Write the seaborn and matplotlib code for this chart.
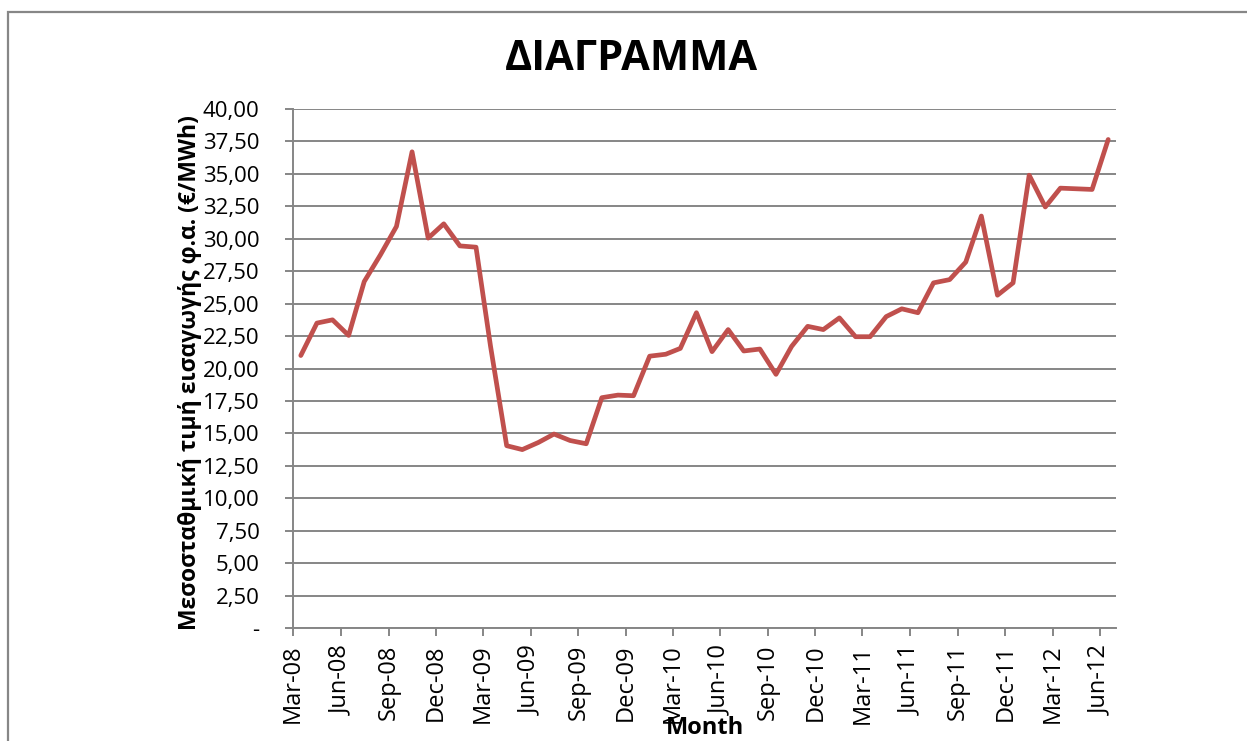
import matplotlib
matplotlib.use("Agg")

import matplotlib.dates as mdates
import matplotlib.pyplot as plt
import numpy as np
import pandas as pd
import seaborn as sns
from matplotlib.patches import Rectangle
from matplotlib.ticker import FuncFormatter, MultipleLocator

# monthly average import price of natural gas, Mar-08 .. Jun-12
months = pd.date_range("2008-03-01", "2012-06-01", freq="MS")
prices = [
    21.0, 23.5, 23.75, 22.55, 26.7, 28.75, 30.95, 36.7, 30.05, 31.15,
    29.45, 29.35, 21.7, 14.05, 13.75, 14.3, 14.95, 14.45, 14.2, 17.75, 17.95, 17.9,
    20.95, 21.1, 21.55, 24.3, 21.3, 23.0, 21.35, 21.5, 19.55, 21.7, 23.25, 23.0,
    23.9, 22.45, 22.45, 24.0, 24.6, 24.3, 26.6, 26.85, 28.2, 31.75, 25.65, 26.6,
    34.9, 32.45, 33.9, 33.85, 33.8, 37.65,
]

title = "ΔΙΑΓΡΑΜΜΑ"
x_label = "Month"
y_label = "Μεσοσταθμική τιμή εισαγωγής φ.α. (€/MWh)"

# points sit in the middle of each month, as in the original
df = pd.DataFrame({"date": months + pd.Timedelta(days=15), "price": prices})

sns.set_style("white")
plt.rcParams["font.family"] = ["Open Sans", "DejaVu Sans"]
plt.rcParams["text.color"] = "black"
plt.rcParams["xtick.color"] = "black"
plt.rcParams["ytick.color"] = "black"

fig = plt.figure(figsize=(12.47, 7.41), dpi=100)
ax = fig.add_axes([293 / 1247, 1 - 628 / 741, (1116 - 293) / 1247, (628 - 109) / 741])

sns.lineplot(data=df, x="date", y="price", ax=ax, color="#C0504D", linewidth=3.4)

grid_c = "#868686"
ax.set_ylim(0, 40)
ax.set_xlim(pd.Timestamp("2008-03-01"), pd.Timestamp("2012-07-01"))
ax.yaxis.set_major_locator(MultipleLocator(2.5))
ax.yaxis.set_major_formatter(FuncFormatter(
    lambda v, _: "-" if abs(v) < 1e-9 else f"{v:.2f}".replace(".", ",")))
ax.xaxis.set_major_locator(mdates.MonthLocator(bymonth=[3, 6, 9, 12]))
ax.xaxis.set_major_formatter(mdates.DateFormatter("%b-%y"))

ax.grid(axis="y", color=grid_c, linewidth=1.4)
ax.set_axisbelow(True)
for side in ["top", "right"]:
    ax.spines[side].set_visible(False)
for side in ["left", "bottom"]:
    ax.spines[side].set_color(grid_c)
    ax.spines[side].set_linewidth(1.4)

ax.tick_params(axis="y", direction="out", length=6, width=1.4, color=grid_c,
               labelcolor="black", labelsize=16, pad=18, left=True)
ax.tick_params(axis="x", direction="out", length=6, width=1.4, color=grid_c,
               labelcolor="black", labelsize=17, pad=6, rotation=90, bottom=True)
ax.set_xlabel("")
ax.set_ylabel("")

fig.text(631 / 1247, 1 - 59 / 741, title, ha="center", va="center",
         fontsize=30, fontweight="bold", color="black")
fig.text(190 / 1247, 1 - 373 / 741, y_label, ha="center", va="center",
         rotation=90, fontsize=16.5, fontweight="bold", color="black")
fig.text(705 / 1247, 1 - 728 / 741, x_label, ha="center", va="center",
         fontsize=17, fontweight="bold", color="black")

# chart-area border, cut off on the right and bottom like the screenshot
fig.add_artist(Rectangle((8 / 1247, -0.1), 1.2, 0.1 + (741 - 12) / 741,
                         transform=fig.transFigure, fill=False,
                         edgecolor="#878787", linewidth=1.6))

fig.savefig("out.png", dpi=100)
